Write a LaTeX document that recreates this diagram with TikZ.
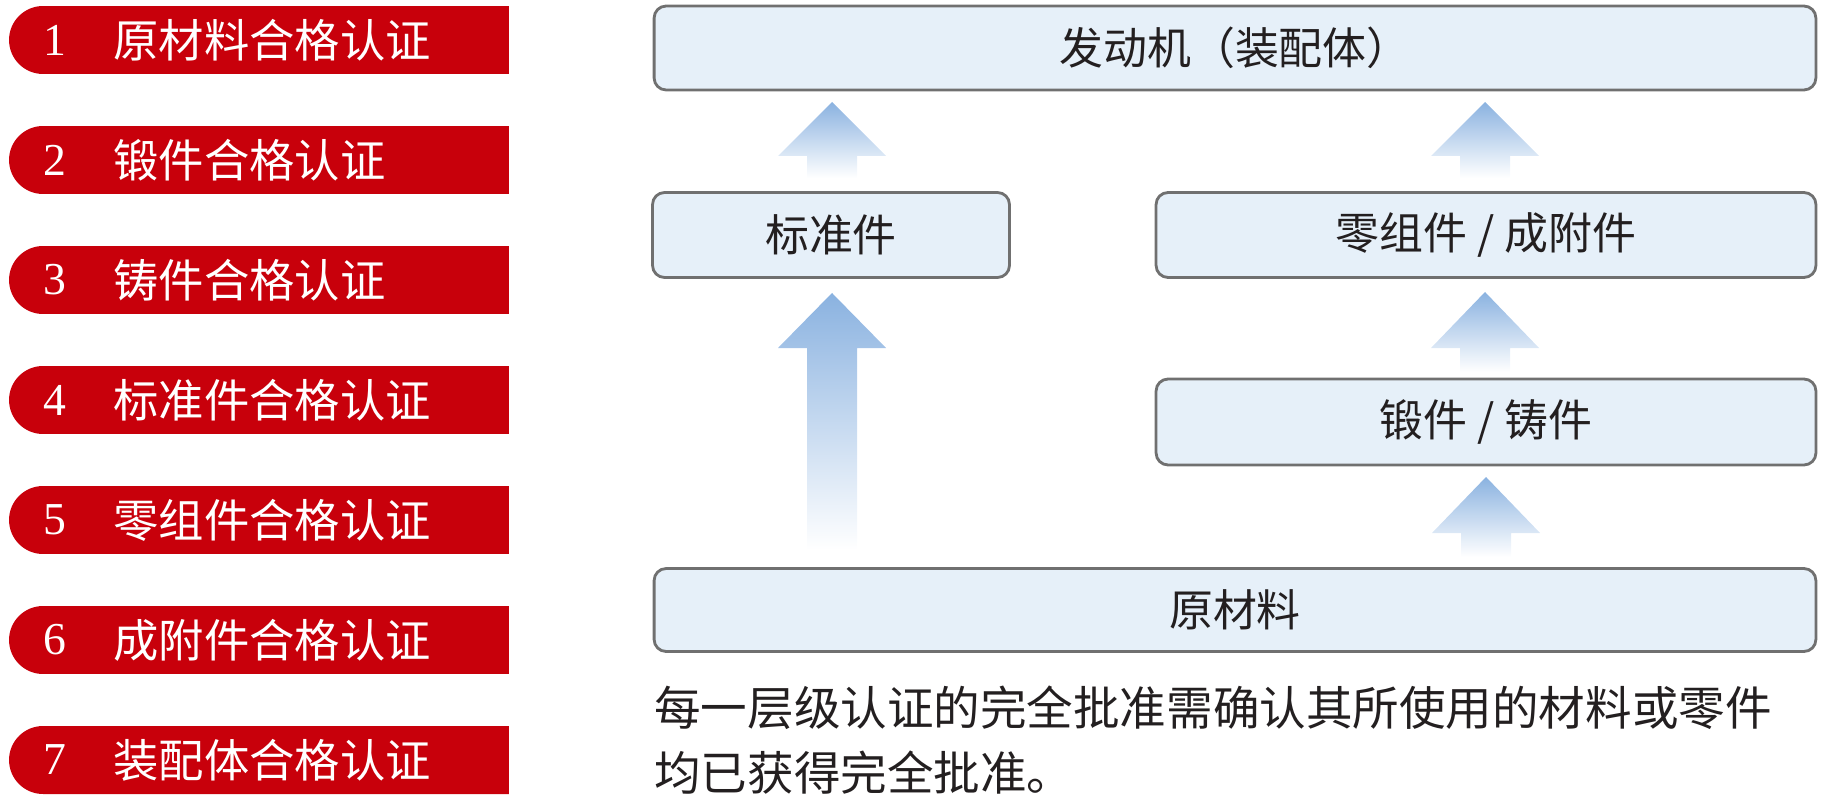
\documentclass[tikz,border=0pt]{standalone}
\usepackage{fontspec}
\setmainfont{Liberation Serif}
\newfontfamily\cjk{Noto Sans CJK SC}
\usetikzlibrary{shapes.misc}
\definecolor{barred}{RGB}{200,0,11}
\definecolor{boxfill}{RGB}{230,240,249}
\definecolor{boxline}{RGB}{112,112,112}
\definecolor{arrowblue}{RGB}{138,178,224}
\definecolor{inktext}{RGB}{35,31,32}
\begin{document}
\begin{tikzpicture}[x=0.02cm, y=-0.02cm,
  bar/.style={rounded rectangle, rounded rectangle right arc=none, fill=barred,
    minimum width=10cm, minimum height=1.36cm, inner sep=0pt},
  barnum/.style={text=white, inner sep=0pt, font=\fontsize{26}{30}\selectfont},
  bartext/.style={text=white, anchor=west, inner sep=0pt, font=\cjk\fontsize{25.8}{30}\selectfont},
  box/.style={draw=boxline, fill=boxfill, line width=1.6pt, rounded corners=0.24cm,
    inner sep=0pt, text=inktext, font=\cjk\fontsize{25}{30}\selectfont},
  upshade/.style={top color=arrowblue, middle color=arrowblue!75, bottom color=white},
  note/.style={anchor=west, inner sep=0pt, text=inktext, font=\cjk\fontsize{26.5}{30}\selectfont}]
\useasboundingbox (0,0) rectangle (1831,800);
% left: certification levels
\foreach \i/\t in {1/原材料合格认证, 2/锻件合格认证, 3/铸件合格认证, 4/标准件合格认证,
                   5/零组件合格认证, 6/成附件合格认证, 7/装配体合格认证}
{
  \node[bar] (bar\i) at (259,{120*\i-80}) {};
  \node[barnum] (num\i) at (55,{120*\i-80}) {\i};
  \node[bartext] (lbl\i) at (113,{120*\i-80}) {\t};
}
% right: build-up from raw material to engine
\node[box, minimum width=23.24cm, minimum height=1.68cm] (engine) at (1235,48) {发动机（装配体）};
\node[box, minimum width=7.14cm, minimum height=1.7cm] (std) at (831,235) {标准件};
\node[box, minimum width=13.2cm, minimum height=1.7cm] (parts) at (1486,235) {零组件 / 成附件};
\node[box, minimum width=13.2cm, minimum height=1.72cm] (forge) at (1486,422) {锻件 / 铸件};
\node[box, minimum width=23.24cm, minimum height=1.66cm] (raw) at (1235,610) {原材料};
% block arrows: x / tip / head base / tail
\foreach \x/\tip/\base/\bot in {832/102/156/178, 1485/102/156/178, 832/293/348/550,
                                1485/292/348/372, 1486/477/533/557}
  \shade[upshade] (\x,\tip) -- (\x+54,\base) -- (\x+25,\base) -- (\x+25,\bot)
    -- (\x-25,\bot) -- (\x-25,\base) -- (\x-54,\base) -- cycle;
% note
\node[note] (note1) at (654,708) {每一层级认证的完全批准需确认其所使用的材料或零件};
\node[note] (note2) at (654,773) {均已获得完全批准。};
\end{tikzpicture}
\end{document}
